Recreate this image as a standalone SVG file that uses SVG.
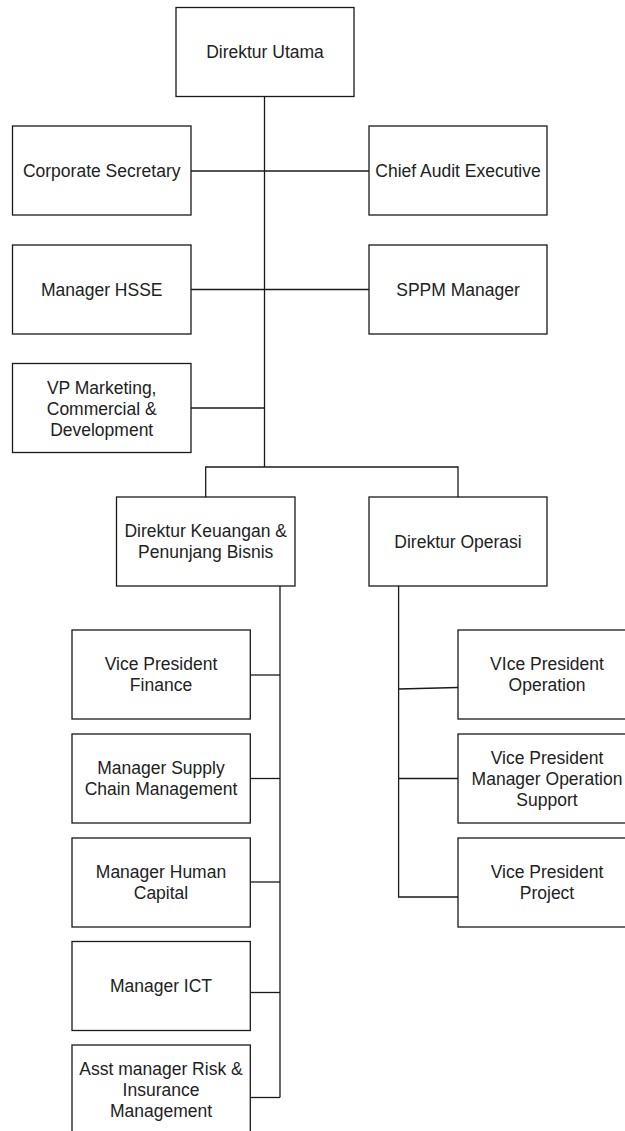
<svg xmlns="http://www.w3.org/2000/svg" width="625" height="1131" viewBox="0 0 625 1131">
<style>
.box{fill:#ffffff;stroke:#1a1a1a;stroke-width:1.3}
.lbl{font-family:"Liberation Sans",Arial,sans-serif;font-size:17.5px;fill:#222;text-anchor:middle;dominant-baseline:central}
.con{fill:none;stroke:#1a1a1a;stroke-width:1.3}
</style>
<rect width="625" height="1131" fill="#ffffff"/>
<g id="connectors">
<path class="con" d="M264.5 96.5V467"/>
<path class="con" d="M191 171H369"/>
<path class="con" d="M191 289.5H369"/>
<path class="con" d="M191 408H264.5"/>
<path class="con" d="M205.7 497V467H458V497"/>
<path class="con" d="M280 586V1097.5"/>
<path class="con" d="M250.3 675H280"/>
<path class="con" d="M250.3 778.5H280"/>
<path class="con" d="M250.3 882H280"/>
<path class="con" d="M250.3 992.5H280"/>
<path class="con" d="M250.3 1097.5H280"/>
<path class="con" d="M398.6 586V897H458"/>
<path class="con" d="M398.6 689L458 687.5"/>
<path class="con" d="M398.6 778.5H458"/>
</g>
<g id="direktur-utama">
<rect class="box" x="176" y="7.5" width="178" height="89"/>
<text class="lbl" x="265" y="52">Direktur Utama</text>
</g>
<g id="corporate-secretary">
<rect class="box" x="12.5" y="126" width="178.5" height="89"/>
<text class="lbl" x="101.7" y="171">Corporate Secretary</text>
</g>
<g id="chief-audit-executive">
<rect class="box" x="369" y="126" width="178" height="89"/>
<text class="lbl" x="458" y="171">Chief Audit Executive</text>
</g>
<g id="manager-hsse">
<rect class="box" x="12.5" y="245" width="178.5" height="89"/>
<text class="lbl" x="101.7" y="289.5">Manager HSSE</text>
</g>
<g id="sppm-manager">
<rect class="box" x="369" y="245" width="178" height="89"/>
<text class="lbl" x="458" y="289.5">SPPM Manager</text>
</g>
<g id="vp-marketing">
<rect class="box" x="12.5" y="363.5" width="178.5" height="89"/>
<text class="lbl" x="101.7" y="387.5">VP Marketing,</text>
<text class="lbl" x="101.7" y="408.5">Commercial &amp;</text>
<text class="lbl" x="101.7" y="429.5">Development</text>
</g>
<g id="direktur-keuangan">
<rect class="box" x="116.5" y="497" width="178.5" height="89"/>
<text class="lbl" x="205.7" y="531">Direktur Keuangan &amp;</text>
<text class="lbl" x="205.7" y="552">Penunjang Bisnis</text>
</g>
<g id="direktur-operasi">
<rect class="box" x="369" y="497" width="178" height="89"/>
<text class="lbl" x="458" y="541.5">Direktur Operasi</text>
</g>
<g id="vp-finance">
<rect class="box" x="72" y="630" width="178.3" height="89"/>
<text class="lbl" x="161" y="664">Vice President</text>
<text class="lbl" x="161" y="685">Finance</text>
</g>
<g id="manager-scm">
<rect class="box" x="72" y="734" width="178.3" height="89"/>
<text class="lbl" x="161" y="768">Manager Supply</text>
<text class="lbl" x="161" y="789">Chain Management</text>
</g>
<g id="manager-human-capital">
<rect class="box" x="72" y="838" width="178.3" height="89"/>
<text class="lbl" x="161" y="872">Manager Human</text>
<text class="lbl" x="161" y="893">Capital</text>
</g>
<g id="manager-ict">
<rect class="box" x="72" y="941.5" width="178.3" height="89"/>
<text class="lbl" x="161" y="986">Manager ICT</text>
</g>
<g id="asst-manager-risk">
<rect class="box" x="72" y="1045" width="178.3" height="89"/>
<text class="lbl" x="161" y="1069">Asst manager Risk &amp;</text>
<text class="lbl" x="161" y="1090">Insurance</text>
<text class="lbl" x="161" y="1111">Management</text>
</g>
<g id="vp-operation">
<rect class="box" x="458" y="630" width="178" height="89"/>
<text class="lbl" x="547" y="664">VIce President</text>
<text class="lbl" x="547" y="685">Operation</text>
</g>
<g id="vp-manager-operation-support">
<rect class="box" x="458" y="734" width="178" height="89"/>
<text class="lbl" x="547" y="757.5">Vice President</text>
<text class="lbl" x="547" y="778.5">Manager Operation</text>
<text class="lbl" x="547" y="799.5">Support</text>
</g>
<g id="vp-project">
<rect class="box" x="458" y="838" width="178" height="89"/>
<text class="lbl" x="547" y="872">Vice President</text>
<text class="lbl" x="547" y="893">Project</text>
</g>
</svg>
